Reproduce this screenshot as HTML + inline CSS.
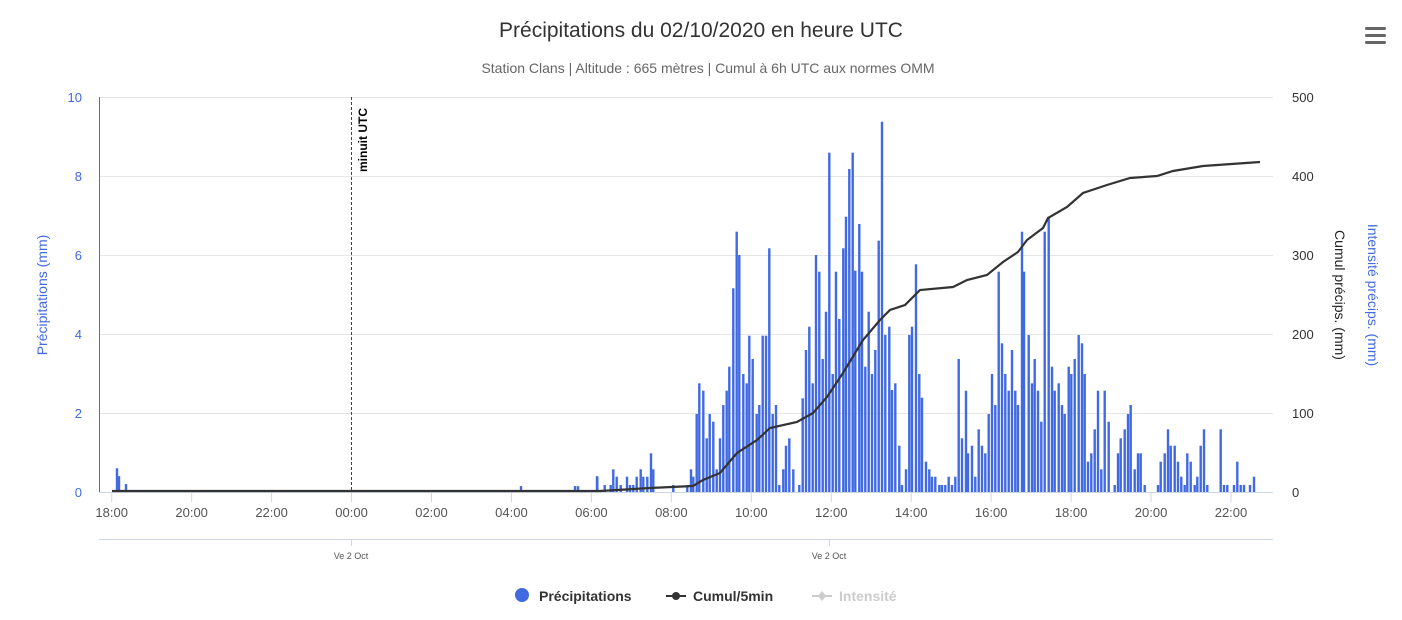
<!DOCTYPE html>
<html><head><meta charset="utf-8"><style>
body{margin:0;background:#fff;}
svg{display:block;font-family:"Liberation Sans",sans-serif;}
</style></head><body>
<svg id="s" width="1402" height="620" xmlns="http://www.w3.org/2000/svg">
<text x="701" y="37" text-anchor="middle" font-size="21" fill="#333">Précipitations du 02/10/2020 en heure UTC</text>
<text x="708" y="73" text-anchor="middle" font-size="14" fill="#666">Station Clans | Altitude : 665 mètres | Cumul à 6h UTC aux normes OMM</text>
<g fill="#666"><rect x="1365" y="27" width="21" height="3" rx="1.5"/><rect x="1365" y="34" width="21" height="3" rx="1.5"/><rect x="1365" y="41" width="21" height="3" rx="1.5"/></g>
<g stroke="#e6e6e6" stroke-width="1">
<line x1="99" x2="1273" y1="97.5" y2="97.5"/><line x1="99" x2="1273" y1="176.5" y2="176.5"/><line x1="99" x2="1273" y1="255.5" y2="255.5"/><line x1="99" x2="1273" y1="334.5" y2="334.5"/><line x1="99" x2="1273" y1="413.5" y2="413.5"/>
</g>
<line x1="99.5" x2="99.5" y1="97" y2="492" stroke="#4169e1" stroke-width="1"/>
<g font-size="13" fill="#4169e1" text-anchor="end">
<text x="82" y="102">10</text><text x="82" y="181">8</text><text x="82" y="260">6</text><text x="82" y="339">4</text><text x="82" y="418">2</text><text x="82" y="497">0</text></g>
<g font-size="13" fill="#333" text-anchor="start">
<text x="1292" y="102">500</text><text x="1292" y="181">400</text><text x="1292" y="260">300</text><text x="1292" y="339">200</text><text x="1292" y="418">100</text><text x="1292" y="497">0</text></g>
<text transform="translate(47,295) rotate(-90)" text-anchor="middle" font-size="14" fill="#4169e1">Précipitations (mm)</text>
<text transform="translate(1335,295) rotate(90)" text-anchor="middle" font-size="14" fill="#222">Cumul précips. (mm)</text>
<text transform="translate(1368,295) rotate(90)" text-anchor="middle" font-size="14" fill="#4169e1">Intensité précips. (mm)</text>
<g id="bars" fill="#4169e1"></g>
<line x1="99" x2="1273" y1="492.5" y2="492.5" stroke="#ccd6eb"/>
<g id="xt" stroke="#ccd6eb"></g>
<g id="xl" font-size="13" fill="#555" text-anchor="middle"></g>
<line x1="351.5" x2="351.5" y1="97" y2="492" stroke="#e00000" stroke-width="1" stroke-dasharray="3,2"/>
<text transform="translate(367,108) rotate(-90)" text-anchor="end" font-size="12" font-weight="bold" fill="#000">minuit UTC</text>
<polyline id="cum" fill="none" stroke="#333" stroke-width="2.2"/>
<line x1="99" x2="1273" y1="539.5" y2="539.5" stroke="#ccd6eb"/>
<line x1="351.5" x2="351.5" y1="539" y2="546" stroke="#ccd6eb"/>
<line x1="829.5" x2="829.5" y1="539" y2="546" stroke="#ccd6eb"/>
<text x="351" y="559" text-anchor="middle" font-size="9" fill="#555">Ve 2 Oct</text>
<text x="829" y="559" text-anchor="middle" font-size="9" fill="#555">Ve 2 Oct</text>
<circle cx="522" cy="595" r="7" fill="#4169e1"/>
<text x="539" y="601" font-size="14" font-weight="bold" fill="#333">Précipitations</text>
<line x1="666" x2="686" y1="596" y2="596" stroke="#333" stroke-width="2"/><circle cx="676" cy="596" r="4" fill="#333"/>
<text x="693" y="601" font-size="14" font-weight="bold" fill="#333">Cumul/5min</text>
<line x1="812" x2="832" y1="596" y2="596" stroke="#ccc" stroke-width="2"/><path d="M822 591 L826 596 L822 601 L818 596Z" fill="#ccc"/>
<text x="839" y="601" font-size="14" font-weight="bold" fill="#ccc">Intensité</text>
</svg>
<script>
var NS="http://www.w3.org/2000/svg";
function el(t,a,p){var e=document.createElementNS(NS,t);for(var k in a)e.setAttribute(k,a[k]);document.getElementById(p).appendChild(e);return e;}
var labels=["18:00","20:00","22:00","00:00","02:00","04:00","06:00","08:00","10:00","12:00","14:00","16:00","18:00","20:00","22:00"];
for(var i=0;i<labels.length;i++){var x=111.7+i*79.95;el("line",{x1:x,x2:x,y1:492,y2:502},"xt");var t=el("text",{x:x,y:517},"xl");t.textContent=labels[i];}
var raw=[];
var early=[[117,0.6],[119,0.4],[126,0.2],[521,0.15],[575,0.15],[578,0.15],[597,0.4]];
early.forEach(function(b){raw.push([b[0],b[1]*39.5]);});
var z1=[[52,1130],[74,1155],[92,1155],[100,1108],[110,1130],[122,1155],[141,1130],[150,1155],[160,1155],[170,1130],[182,1108],[190,1130],[202,1130],[213,1060],[220,1108],[280,1155],[322,1155],[333,1108],[340,1130],[350,942],[358,850],[370,872],[380,1015],[389,942],[400,965],[410,1108],[420,1015],[430,915],[440,872],[448,800],[460,565],[470,395],[478,465],[490,822],[500,850],[508,707],[518,777],[530,942],[538,915],[548,707],[558,707],[568,445],[578,942],[588,915],[598,1155],[610,1108],[618,1037],[628,1015],[640,1108],[658,1155],[668,895],[678,750],[688,680],[698,850],[708,465],[718,515],[728,777],[738,635],[748,158],[758,822],[768,515],[778,657],[790,445],[798,350],[808,207],[818,158],[826,512],[838,372],[846,515],[856,800],[866,635],[876,822],[886,750],[896,422],[906,65]];
z1.forEach(function(b){raw.push([580+b[0]/3,392-b[1]/3]);});
var z2=[[16,705],[28,680],[36,870],[46,850],[58,1037],[66,1155],[78,1108],[88,705],[96,680],[108,493],[118,822],[126,893],[138,1085],[148,1108],[156,1130],[166,1130],[178,1155],[186,1155],[196,1155],[206,1130],[216,1155],[226,1130],[236,777],[246,1015],[258,872],[264,1060],[276,1037],[286,1130],[296,988],[306,1037],[316,1060],[326,942],[336,822],[346,915],[356,515],[366,730],[376,822],[386,872],[396,750],[406,872],[414,915],[426,395],[432,515],[446,705],[456,850],[464,777],[474,872],[484,965],[494,395],[506,350],[516,800],[524,872],[536,850],[546,915],[554,942],[566,800],[574,822],[584,777],[596,705],[606,730],[614,822],[624,1085],[634,1060],[644,988],[654,872],[664,1108],[674,872],[686,965],[704,1155],[714,1060],[722,1015],[734,988],[744,942],[752,915],[764,1108],[774,1060],[782,1060],[794,1155],[834,1155],[842,1085],[854,1060],[864,988],[872,1037],[884,1037],[894,1085],[904,1130],[914,1155],[922,1060],[932,1085],[944,1155],[952,1130],[962,1037],[972,988],[982,1155],[1022,988],[1032,1155],[1042,1155],[1062,1155],[1072,1085],[1082,1155],[1092,1155],[1110,1155],[1122,1130]];
z2.forEach(function(b){raw.push([880+b[0]/3,392-b[1]/3]);});
raw.forEach(function(b){var h=Math.max(b[1],2);el("rect",{x:(b[0]-1.2).toFixed(1),y:(492-h).toFixed(1),width:2.4,height:h.toFixed(1)},"bars");});
var pts=[[112,491],[600,491],[650,488],[693,486],[703,480],[720,473],[737,453],[757,440],[770,428],[797,422],[813,413],[827,397],[843,373],[863,340],[880,320],[890,310],[905,305],[920,290],[953,287],[967,280],[987,275],[1003,262],[1018,252],[1027,240],[1043,228],[1048,218],[1067,207],[1083,193],[1107,185],[1130,178],[1157,176],[1173,171],[1203,166],[1260,162]];
document.getElementById("cum").setAttribute("points",pts.map(function(p){return p.join(",");}).join(" "));
</script>
</body></html>
